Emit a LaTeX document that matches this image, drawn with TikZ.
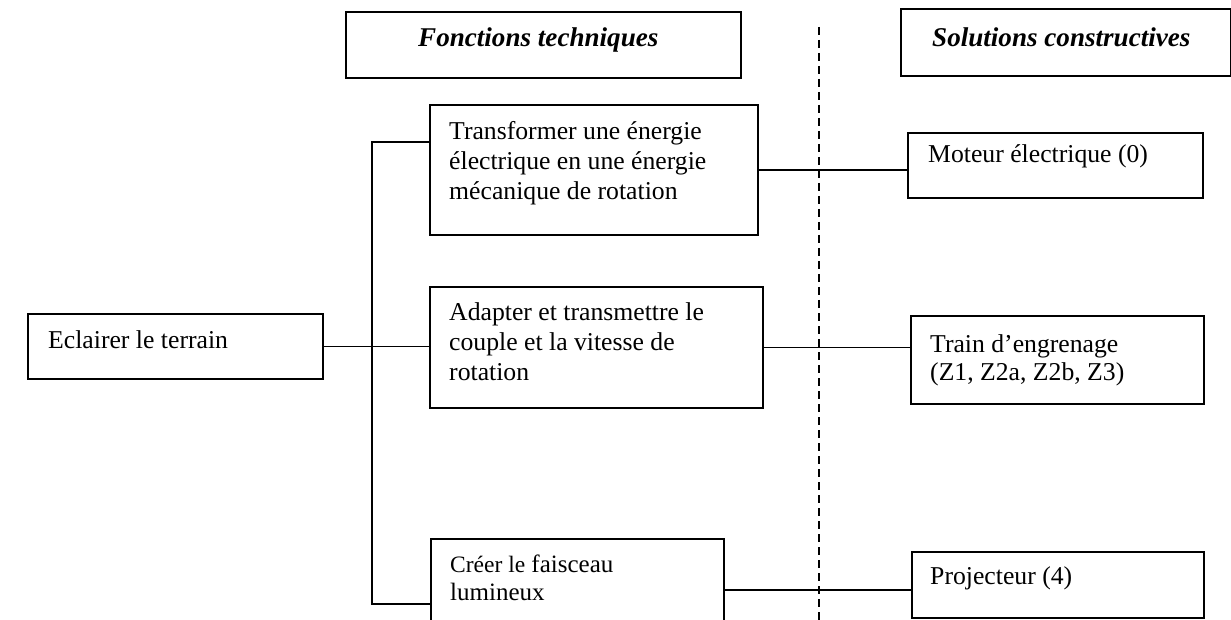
\documentclass[tikz,border=0pt]{standalone}
\usepackage{fontspec}
\setmainfont{Liberation Serif}
\begin{document}
\begin{tikzpicture}[x=1pt,y=-1pt,
  box/.style={draw,line width=1.6pt,inner sep=0pt,anchor=north west},
  txt/.style={anchor=base west,inner sep=0pt,align=left,font=\fontsize{25.7}{30}\selectfont},
  head/.style={anchor=base west,inner sep=0pt,font=\fontsize{27.1}{30}\selectfont\bfseries\itshape},
  wire/.style={line width=1.6pt},
  sep/.style={line width=1.6pt,dash pattern=on 8pt off 5pt}]
\useasboundingbox (0,0) rectangle (1231,620);
\clip (0,0) rectangle (1231,620);
% headings
\node[box,minimum width=395pt,minimum height=66pt] (ft) at (345,11) {};
\node[head] (ftt) at (418,47) {Fonctions techniques};
\node[box,minimum width=330pt,minimum height=67pt] (sc) at (900,8) {};
\node[head] (sct) at (932,47) {Solutions constructives};
% separator
\coordinate (d1) at (819,27);
\coordinate (d2) at (819,620);
\draw[sep] (d1) -- (d2);
% main function
\node[box,minimum width=295pt,minimum height=65pt] (ecl) at (27,313) {};
\node[txt] (eclt) at (48,348) {Eclairer le terrain};
% technical functions (base anchor = last line)
\node[box,minimum width=328pt,minimum height=130pt] (b1) at (429,104) {};
\node[txt] (b1t) at (449,200) {Transformer une énergie\\électrique en une énergie\\mécanique de rotation};
\node[box,minimum width=333pt,minimum height=121pt] (b2) at (429,286) {};
\node[txt] (b2t) at (449,380) {Adapter et transmettre le\\couple et la vitesse de\\rotation};
\node[box,minimum width=293pt,minimum height=102pt] (b3) at (430,538) {};
\node[txt,font=\fontsize{25}{28}\selectfont] (b3t) at (450,600) {{\fontsize{23.5}{28}\selectfont Créer le} faisceau\\lumineux};
% solutions
\node[box,minimum width=295pt,minimum height=65pt] (mot) at (907,132) {};
\node[txt] (mott) at (928,163) {Moteur électrique (0)};
\node[box,minimum width=293pt,minimum height=88pt] (tr) at (910,315) {};
\node[txt,font=\fontsize{25.7}{28}\selectfont] (trt) at (930,380) {Train d’engrenage\\(Z1, Z2a, Z2b, Z3)};
\node[box,minimum width=292pt,minimum height=66pt] (pr) at (911,551) {};
\node[txt] (prt) at (930,584) {Projecteur (4)};
% connectors
\coordinate (t1) at (372,142);
\coordinate (t3) at (372,604);
\draw[wire] (b1.west|-t1) -- (t1) -- (t3) -- (b3.west|-t3);
\draw[wire] (ecl.east) -- (ecl.east-|b2.west);
\draw[wire] (b1.east) -- (b1.east-|mot.west);
\draw[wire] (b2.east) -- (b2.east-|tr.west);
\draw[wire] (b3.east) -- (b3.east-|pr.west);
\end{tikzpicture}
\end{document}
